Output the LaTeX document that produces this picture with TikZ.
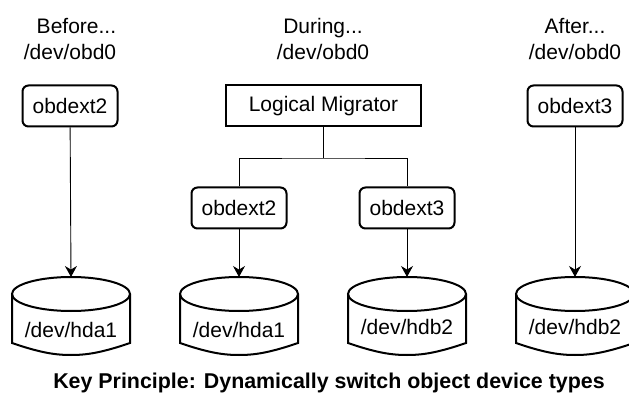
\documentclass[tikz,border=0pt]{standalone}
\usepackage{fontspec}
\setmainfont{Liberation Sans}
\usetikzlibrary{arrows.meta}
\tikzset{
  txt/.style={font=\fontsize{21}{26}\selectfont},
  ext/.style={txt,draw,line width=2pt,rounded corners=6pt,minimum width=95pt,minimum height=41pt,inner sep=0pt},
  disk/.style={draw,line width=2pt},
  link/.style={draw,line width=.9pt,-{Stealth[length=11pt,width=12pt]}}
}
\begin{document}
\begin{tikzpicture}[x=1pt,y=-1pt]
  \useasboundingbox (0,0) rectangle (629,395);

  \node (t1) [txt,align=right] at (70,39) {Before...\\/dev/obd0};
  \node (t2) [txt,align=center] at (323,39) {During...\\/dev/obd0};
  \node (t3) [txt,align=center] at (575,39) {After...\\/dev/obd0};

  \node (b1) [ext] at (70,106) {obdext2};
  \node (lm) [ext,rounded corners=0pt,minimum width=195pt] at (323.5,106) {Logical Migrator};
  \node (b2) [ext] at (239,208) {obdext2};
  \node (b3) [ext] at (407,208) {obdext3};
  \node (b4) [ext] at (575,106) {obdext3};

  \foreach \name/\x/\y/\lab in {d1/71/330/hda1,d2/239/330/hda1,d3/407/327/hdb2,d4/575/327/hdb2}{
    \coordinate (\name) at (\x,277);
    \draw[disk] (\x,294) ellipse (59 and 17);
    \draw[disk] (\x-59,294) -- (\x-59,343) .. controls (\x-30,353) and (\x-15,355) .. (\x,355)
      .. controls (\x+15,355) and (\x+30,353) .. (\x+59,343) -- (\x+59,294);
    \node (\name t) [txt] at (\x,\y) {/dev/\lab};
  }

  \foreach \from/\to in {b1/d1,b2/d2,b3/d3,b4/d4}
    \draw[link] (\from) -- (\to);

  \coordinate (j) at (323.5,158);
  \draw[line width=.9pt] (lm) -- (j);
  \draw[line width=.9pt] (b2) |- (j) -| (b3);

  \node (key) [font=\bfseries\fontsize{21.4}{25}\selectfont] at (329,383) {Key Principle: Dynamically switch object device types};
\end{tikzpicture}
\end{document}
